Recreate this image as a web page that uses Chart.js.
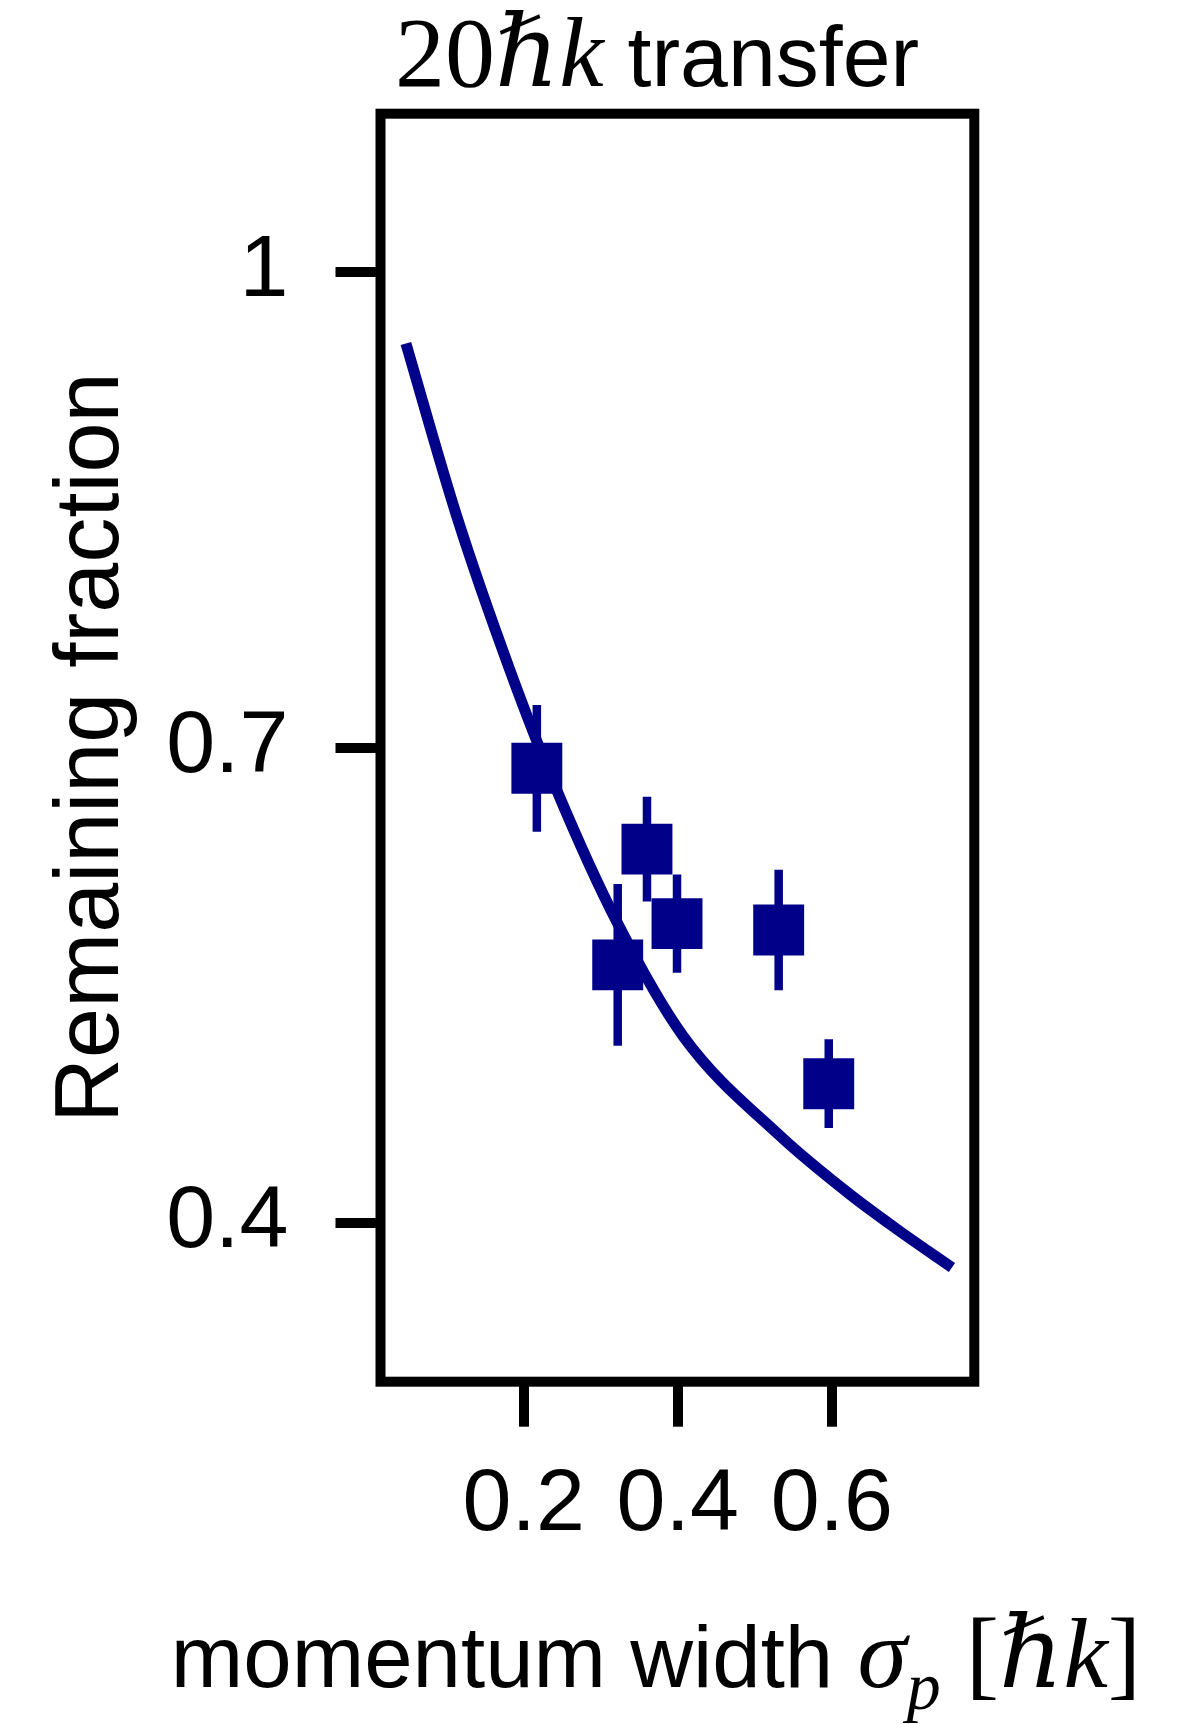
<!DOCTYPE html>
<html lang="en">
<head>
<meta charset="UTF-8">
<title>20ħk transfer</title>
<script src="https://cdn.jsdelivr.net/npm/chart.js"></script>
<style>
  html, body { margin: 0; padding: 0; background: #fff; }
  #wrap { width: 1184px; height: 1724px; position: relative; }
</style>
</head>
<body>
<div id="wrap"><canvas id="chart"></canvas></div>
<script>
// measured points (momentum width vs remaining fraction)
const sigmaP = [0.217, 0.322, 0.360, 0.399, 0.531, 0.596];
const remaining = [0.687, 0.563, 0.636, 0.589, 0.585, 0.488];
const remainingErr = [0.040, 0.051, 0.033, 0.031, 0.038, 0.028];

// theory curve
const fitX = [0.047, 0.113, 0.182, 0.243, 0.321, 0.407, 0.533, 0.624, 0.688, 0.756];
const fitY = [0.955, 0.846, 0.749, 0.673, 0.590, 0.518, 0.455, 0.418, 0.395, 0.372];

const xTicks = [0.2, 0.4, 0.6];
const yTicks = [0.4, 0.7, 1];

const NAVY = '#000088';
const SANS = '"Liberation Sans", Arial, Helvetica, sans-serif';
const SERIF = '"Liberation Serif", "DejaVu Serif", "Times New Roman", serif';

// draw a line made of pieces with different fonts, centred on cx
function drawRuns(ctx, runs, cx, baseY) {
    let total = 0;
    runs.forEach(r => { ctx.font = r.font; r.w = ctx.measureText(r.text).width; total += r.w; });
    let x = cx - total / 2;
    ctx.textAlign = 'left';
    ctx.textBaseline = 'alphabetic';
    runs.forEach(r => {
        ctx.font = r.font;
        ctx.fillText(r.text, x, baseY + (r.dy || 0));
        x += r.w;
    });
}

const extras = {
    id: 'extras',
    beforeDatasetsDraw(chart) {
        const ctx = chart.ctx, xs = chart.scales.x, ys = chart.scales.y;
        ctx.save();
        ctx.strokeStyle = NAVY;
        ctx.lineWidth = 8.5;
        ctx.lineCap = 'butt';
        sigmaP.forEach((v, i) => {
            const px = xs.getPixelForValue(v);
            ctx.beginPath();
            ctx.moveTo(px, ys.getPixelForValue(remaining[i] - remainingErr[i]));
            ctx.lineTo(px, ys.getPixelForValue(remaining[i] + remainingErr[i]));
            ctx.stroke();
        });
        ctx.restore();
    },
    afterDraw(chart) {
        const ctx = chart.ctx, a = chart.chartArea;
        ctx.save();
        // frame
        ctx.strokeStyle = '#000';
        ctx.lineWidth = 10;
        ctx.lineJoin = 'miter';
        ctx.strokeRect(a.left, a.top, a.right - a.left, a.bottom - a.top);

        ctx.fillStyle = '#000';
        // top title
        drawRuns(ctx, [
            { text: '20', font: '100px ' + SERIF },
            { text: 'ℏk', font: 'italic 100px ' + SERIF },
            { text: ' transfer', font: '86px ' + SANS }
        ], 657, 86);
        // x axis title
        drawRuns(ctx, [
            { text: 'momentum width ', font: '87px ' + SANS },
            { text: 'σ', font: 'italic 100px ' + SERIF },
            { text: 'p', font: 'italic 68px ' + SERIF, dy: 22 },
            { text: ' [', font: '100px ' + SERIF },
            { text: 'ℏk', font: 'italic 100px ' + SERIF },
            { text: ']', font: '100px ' + SERIF }
        ], 656, 1687);
        ctx.restore();
    }
};

const gridOpts = {
    drawOnChartArea: false,
    drawTicks: true,
    tickLength: 45,
    tickWidth: 10,
    tickColor: '#000',
    color: '#000',
    lineWidth: 10
};

new Chart(document.getElementById('chart'), {
    data: {
        datasets: [
            {
                type: 'line',
                label: 'theory',
                data: fitX.map((x, i) => ({ x: x, y: fitY[i] })),
                borderColor: NAVY,
                borderWidth: 11,
                pointRadius: 0,
                fill: false,
                cubicInterpolationMode: 'monotone'
            },
            {
                type: 'scatter',
                label: 'data',
                data: sigmaP.map((x, i) => ({ x: x, y: remaining[i] })),
                pointStyle: 'rect',
                pointRadius: 36,
                pointHoverRadius: 36,
                backgroundColor: NAVY,
                borderColor: NAVY,
                borderWidth: 0
            }
        ]
    },
    options: {
        responsive: true,
        maintainAspectRatio: false,
        animation: false,
        layout: { padding: { left: 0, top: 113.7, right: 209.7, bottom: 0 } },
        plugins: { legend: { display: false }, title: { display: false }, tooltip: { enabled: false } },
        scales: {
            x: {
                type: 'linear',
                min: 0.014,
                max: 0.785,
                afterBuildTicks: s => { s.ticks = xTicks.map(v => ({ value: v })); },
                afterFit: s => { s.height = 342.3; },
                grid: gridOpts,
                border: { display: false },
                ticks: {
                    color: '#000',
                    padding: 26,
                    font: { family: SANS, size: 88, lineHeight: 1.2 },
                    callback: v => v.toFixed(1)
                }
            },
            y: {
                type: 'linear',
                min: 0.3,
                max: 1.1,
                afterBuildTicks: s => { s.ticks = yTicks.map(v => ({ value: v })); },
                afterFit: s => { s.width = 380.5; },
                grid: gridOpts,
                border: { display: false },
                ticks: {
                    color: '#000',
                    padding: 47,
                    font: { family: SANS, size: 88, lineHeight: 1.2 },
                    callback: v => (v === 1 ? '1' : v.toFixed(1))
                },
                title: {
                    display: true,
                    text: 'Remaining fraction',
                    color: '#000',
                    font: { family: SANS, size: 90, lineHeight: 1.2 },
                    padding: { top: 39, bottom: 0 }
                }
            }
        }
    },
    plugins: [extras]
});
</script>
</body>
</html>
